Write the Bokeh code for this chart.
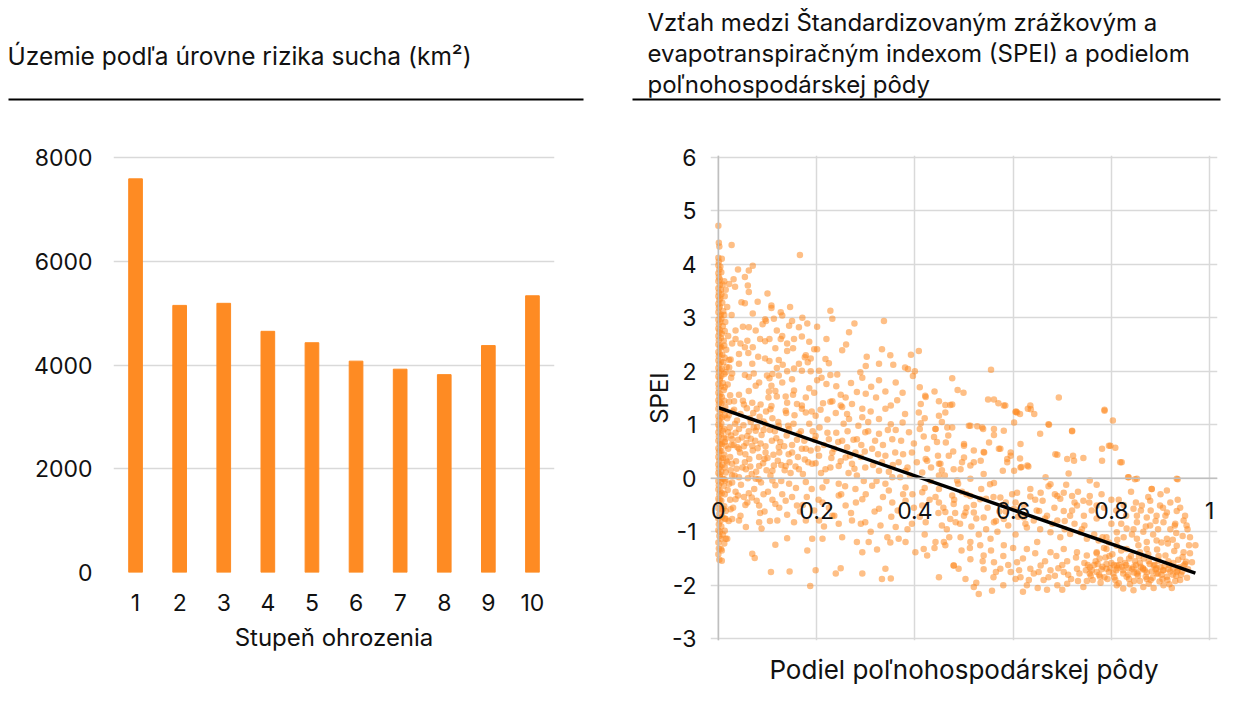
from bokeh.plotting import figure
from bokeh.layouts import column, row
from bokeh.models import (Range1d, FactorRange, FixedTicker, CustomJSTickFormatter,
                          Title, Label, Span)
from bokeh.embed import file_html
from bokeh.resources import INLINE

FONT = "Inter"
ORANGE = "#FE8B23"
GRID = "#D9D9D9"
TXT = "#111111"

# ---------------- data ----------------
left_title = "Územie podľa úrovne rizika sucha (km²)"
right_title_lines = ["Vzťah medzi Štandardizovaným zrážkovým a",
                     "evapotranspiračným indexom (SPEI) a podielom",
                     "poľnohospodárskej pôdy"]
bar_xlabel = "Stupeň ohrozenia"
scatter_xlabel = "Podiel poľnohospodárskej pôdy"
scatter_ylabel = "SPEI"

levels = ["1", "2", "3", "4", "5", "6", "7", "8", "9", "10"]
area_km2 = [7590, 5150, 5190, 4650, 4430, 4075, 3920, 3815, 4375, 5335]
bar_ticks = [0, 2000, 4000, 6000, 8000]

x_ticks = [0, 0.2, 0.4, 0.6, 0.8, 1]
x_tick_labels = ["0", "0.2", "0.4", "0.6", "0.8", "1"]
y_ticks = [-3, -2, -1, 0, 1, 2, 3, 4, 5, 6]

trend_x = [0.0, 0.971]
trend_y = [1.32, -1.77]

pts_column = [
    (0.000, 4.72), (0.001, 4.40), (0.002, 4.33), (0.000, 4.12), (0.001, 4.05), (0.000, 3.98),
    (0.002, 3.90), (0.000, 3.83), (0.001, 3.76), (0.000, 3.68), (0.003, 3.61), (0.000, 3.55),
    (0.001, 3.47), (0.000, 3.40), (0.002, 3.33), (0.000, 3.26), (0.001, 3.18), (0.000, 3.10),
    (0.003, 3.03), (0.000, 2.96), (0.001, 2.88), (0.000, 2.80), (0.002, 2.73), (0.000, 2.66),
    (0.001, 2.58), (0.000, 2.50), (0.003, 2.43), (0.000, 2.36), (0.001, 2.28), (0.000, 2.20),
    (0.002, 2.13), (0.000, 2.06), (0.001, 1.98), (0.000, 1.90), (0.003, 1.83), (0.000, 1.76),
    (0.001, 1.68), (0.000, 1.60), (0.002, 1.53), (0.000, 1.46), (0.001, 1.38), (0.000, 1.30),
    (0.003, 1.23), (0.000, 1.16), (0.001, 1.08), (0.000, 1.00), (0.002, 0.93), (0.000, 0.86),
    (0.001, 0.78), (0.000, 0.70), (0.003, 0.63), (0.000, 0.56), (0.001, 0.48), (0.000, 0.40),
    (0.002, 0.33), (0.000, 0.26), (0.001, 0.18), (0.000, 0.10), (0.003, 0.03), (0.000, -0.05),
    (0.001, -0.13), (0.000, -0.21), (0.002, -0.30), (0.000, -0.38), (0.001, -0.47), (0.000, -0.56),
    (0.002, -0.66), (0.000, -0.75), (0.001, -0.86), (0.000, -0.97), (0.002, -1.08), (0.000, -1.20),
    (0.001, -1.31), (0.000, -1.42), (0.002, -1.52),
    (0.007, 4.10), (0.006, 3.85), (0.009, 3.62), (0.006, 3.44), (0.008, 3.28), (0.010, 3.12),
    (0.006, 2.98), (0.009, 2.84), (0.007, 2.70), (0.011, 2.57), (0.006, 2.45), (0.008, 2.31),
    (0.010, 2.17), (0.007, 2.04), (0.006, 1.91), (0.009, 1.78), (0.011, 1.65), (0.007, 1.52),
    (0.006, 1.40), (0.010, 1.27), (0.008, 1.14), (0.006, 1.02), (0.009, 0.89), (0.011, 0.76),
    (0.007, 0.64), (0.006, 0.51), (0.010, 0.38), (0.008, 0.25), (0.006, 0.12), (0.009, -0.01),
    (0.011, -0.14), (0.007, -0.28), (0.006, -0.42), (0.010, -0.57), (0.008, -0.72), (0.006, -0.90),
    (0.009, -1.05), (0.012, -1.22), (0.007, -1.35),
    (0.015, 3.52), (0.018, 3.20), (0.014, 2.92), (0.020, 2.66), (0.016, 2.40), (0.022, 2.21),
    (0.015, 1.98), (0.019, 1.75), (0.024, 1.55), (0.014, 1.33), (0.018, 1.12), (0.023, 0.95),
    (0.015, 0.74), (0.020, 0.55), (0.016, 0.33), (0.025, 0.15), (0.014, -0.04), (0.019, -0.22),
    (0.024, -0.40), (0.015, -0.61), (0.021, -0.80), (0.013, -0.98), (0.018, -1.13), (0.027, 3.05),
    (0.028, 2.52), (0.026, 1.88), (0.029, 1.25), (0.027, 0.62), (0.028, -0.08), (0.022, 1.43),
    (0.017, 2.08), (0.020, 0.86), (0.025, -0.58),
    (0.004, 3.95), (0.003, 3.72), (0.005, 3.52), (0.004, 3.36), (0.003, 3.21), (0.005, 3.06),
    (0.004, 2.92), (0.003, 2.77), (0.005, 2.62), (0.004, 2.47), (0.003, 2.32), (0.005, 2.17),
    (0.004, 2.02), (0.003, 1.87), (0.005, 1.72), (0.004, 1.57), (0.003, 1.42), (0.005, 1.27),
    (0.004, 1.12), (0.003, 0.97), (0.005, 0.82), (0.004, 0.67), (0.003, 0.52), (0.005, 0.37),
    (0.004, 0.22), (0.003, 0.07), (0.005, -0.08), (0.004, -0.24), (0.003, -0.40), (0.005, -0.58),
    (0.004, -0.80), (0.003, -1.00),
    (0.013, 3.40), (0.012, 3.05), (0.013, 2.75), (0.012, 2.48), (0.013, 2.25), (0.012, 1.95),
    (0.013, 1.70), (0.012, 1.45), (0.013, 1.18), (0.012, 0.92), (0.013, 0.68), (0.012, 0.44),
    (0.013, 0.20), (0.012, -0.02), (0.013, -0.30), (0.012, -0.52), (0.013, -0.75),
]

pts_upper = [
    (0.027, 4.36), (0.166, 4.17), (0.070, 3.97), (0.062, 3.88), (0.054, 3.76), (0.031, 3.72),
    (0.034, 3.58), (0.022, 3.63), (0.012, 3.68), (0.062, 3.48), (0.047, 3.29), (0.054, 3.27),
    (0.108, 3.23), (0.108, 3.18), (0.146, 3.20), (0.127, 3.10), (0.130, 3.04), (0.070, 3.08),
    (0.228, 3.13), (0.232, 2.98), (0.171, 3.00), (0.113, 2.98), (0.095, 2.97), (0.097, 2.94),
    (0.150, 2.94), (0.181, 2.89), (0.277, 2.89), (0.337, 2.94), (0.201, 2.83), (0.164, 2.82),
    (0.144, 2.85), (0.090, 2.88), (0.062, 2.82), (0.050, 2.83), (0.035, 2.76), (0.076, 2.76),
    (0.119, 2.76), (0.266, 2.73), (0.130, 2.66), (0.127, 2.60), (0.104, 2.60), (0.095, 2.56),
    (0.170, 2.65), (0.154, 2.60), (0.220, 2.60), (0.059, 2.57), (0.054, 2.45), (0.045, 2.52),
    (0.035, 2.60), (0.116, 2.43), (0.140, 2.38), (0.152, 2.43), (0.195, 2.41), (0.201, 2.41),
    (0.252, 2.39), (0.333, 2.41), (0.408, 2.38), (0.042, 2.32), (0.061, 2.34), (0.081, 2.27),
    (0.178, 2.30), (0.176, 2.26), (0.188, 2.24), (0.218, 2.23), (0.302, 2.27), (0.392, 2.31),
    (0.095, 2.24), (0.104, 2.19), (0.025, 2.22), (0.022, 2.07), (0.042, 2.14), (0.069, 2.14),
    (0.123, 2.21), (0.131, 2.12), (0.119, 2.06), (0.154, 2.05), (0.164, 2.14), (0.182, 2.17),
    (0.225, 2.15), (0.327, 2.14), (0.356, 2.12), (0.380, 2.07), (0.386, 2.04), (0.400, 2.00),
    (0.396, 1.91), (0.476, 1.87), (0.028, 1.96), (0.054, 1.93), (0.062, 1.89), (0.072, 1.96),
    (0.083, 1.79), (0.099, 1.92), (0.104, 1.87), (0.123, 1.92), (0.140, 2.00), (0.170, 2.01),
    (0.188, 2.00), (0.205, 2.01), (0.201, 1.83), (0.220, 1.76), (0.228, 1.93), (0.242, 1.94),
    (0.289, 1.98), (0.293, 1.88), (0.327, 1.83), (0.361, 1.79), (0.311, 1.71), (0.282, 1.61),
    (0.249, 1.56), (0.259, 1.51), (0.321, 1.51), (0.364, 1.46), (0.422, 1.52), (0.449, 1.44),
    (0.412, 1.39), (0.462, 1.37), (0.472, 1.37), (0.213, 1.40), (0.228, 1.43), (0.232, 1.44),
    (0.252, 1.33), (0.249, 1.36), (0.272, 1.39), (0.293, 1.30), (0.351, 1.36), (0.178, 1.51),
    (0.195, 1.60), (0.154, 1.64), (0.152, 1.56), (0.137, 1.53), (0.116, 1.63), (0.119, 1.53),
    (0.103, 1.62), (0.102, 1.51), (0.130, 1.79), (0.108, 1.73), (0.076, 1.73), (0.062, 1.63),
    (0.042, 1.56), (0.032, 1.44), (0.052, 1.38), (0.069, 1.41), (0.086, 1.38), (0.140, 1.41),
    (0.160, 1.39), (0.170, 1.36),
    (0.555, 2.03), (0.487, 1.65), (0.499, 1.60), (0.476, 1.38), (0.549, 1.47), (0.561, 1.47),
    (0.570, 1.40), (0.584, 1.36), (0.635, 1.36), (0.630, 1.30), (0.693, 1.51), (0.786, 1.28),
    (0.606, 1.25), (0.421, 1.54), (0.608, 1.23), (0.636, 1.29), (0.643, 1.20),
    (0.110, 1.95), (0.150, 1.85), (0.185, 1.68), (0.210, 1.88), (0.240, 1.72), (0.270, 1.78),
    (0.300, 1.58), (0.340, 1.62), (0.375, 1.60), (0.410, 1.70), (0.440, 1.62), (0.070, 2.45),
    (0.085, 2.60), (0.140, 2.52), (0.185, 2.55), (0.260, 2.50), (0.300, 2.10), (0.350, 2.30),
    (0.080, 3.30), (0.100, 3.45), (0.040, 3.90), (0.060, 3.60),
]

pts_middle = [
    (0.106, 1.29), (0.137, 1.26), (0.178, 1.23), (0.198, 1.17), (0.239, 1.22), (0.266, 1.11),
    (0.293, 1.14), (0.327, 1.11), (0.351, 1.01), (0.375, 1.04), (0.408, 1.23), (0.449, 1.17),
    (0.462, 1.23), (0.442, 0.92), (0.476, 0.95), (0.388, 0.86), (0.354, 0.73), (0.327, 0.83),
    (0.299, 0.86), (0.282, 0.73), (0.252, 0.70), (0.225, 0.73), (0.198, 0.79), (0.164, 0.83),
    (0.144, 0.92), (0.123, 0.98), (0.096, 1.01), (0.076, 0.89), (0.059, 0.79), (0.042, 0.92),
    (0.028, 0.73), (0.015, 0.61), (0.042, 0.55), (0.069, 0.61), (0.096, 0.48), (0.123, 0.58),
    (0.150, 0.48), (0.178, 0.55), (0.205, 0.42), (0.232, 0.48), (0.259, 0.39), (0.279, 0.48),
    (0.313, 0.55), (0.340, 0.42), (0.367, 0.30), (0.394, 0.48), (0.422, 0.36), (0.449, 0.27),
    (0.469, 0.42), (0.449, 0.05), (0.415, 0.11), (0.381, 0.14), (0.354, 0.02), (0.327, 0.14),
    (0.299, 0.20), (0.272, 0.27), (0.245, 0.23), (0.218, 0.17), (0.191, 0.27), (0.164, 0.17),
    (0.137, 0.23), (0.110, 0.14), (0.083, 0.23), (0.056, 0.17), (0.028, 0.27), (0.015, 0.11),
    (0.042, 0.02), (0.076, -0.01), (0.110, -0.04), (0.144, -0.10), (0.178, -0.07), (0.212, -0.17),
    (0.245, -0.10), (0.279, -0.20), (0.313, -0.14), (0.347, -0.23), (0.381, -0.17), (0.415, -0.26),
    (0.449, -0.20), (0.476, -0.32), (0.035, -0.39), (0.059, -0.45), (0.083, -0.51), (0.116, -0.48),
    (0.137, -0.42), (0.160, -0.51), (0.212, -0.45), (0.245, -0.32), (0.259, -0.51), (0.293, -0.39),
    (0.327, -0.57), (0.354, -0.45), (0.381, -0.42), (0.415, -0.51), (0.449, -0.45), (0.462, -0.63),
    (0.015, -0.76), (0.028, -0.76), (0.042, -0.79), (0.056, -0.91), (0.083, -0.82), (0.120, -0.79),
    (0.154, -0.82), (0.178, -0.79), (0.205, -0.79), (0.232, -0.70), (0.245, -0.85), (0.272, -0.79),
    (0.299, -0.82), (0.330, -0.88), (0.361, -0.91), (0.394, -0.85), (0.422, -0.82), (0.455, -0.88),
    (0.472, -0.76), (0.088, -0.94), (0.212, -1.13), (0.252, -1.10), (0.282, -1.19), (0.306, -1.19),
    (0.344, -1.10), (0.367, -1.13), (0.381, -1.19), (0.401, -1.38), (0.418, -1.32), (0.442, -1.19),
    (0.459, -1.19), (0.116, -1.24), (0.140, -1.12), (0.191, -1.13), (0.069, -1.41), (0.074, -1.49),
    (0.181, -1.35), (0.293, -1.38), (0.323, -1.33), (0.425, -1.44), (0.107, -1.75), (0.145, -1.74),
    (0.198, -1.72), (0.249, -1.68), (0.239, -1.78), (0.293, -1.78), (0.340, -1.69), (0.333, -1.88),
    (0.351, -1.87), (0.449, -1.85), (0.187, -2.01), (0.462, -1.25), (0.479, -1.63), (0.005, -1.13),
    (0.015, -1.13), (0.005, -1.32), (0.007, -1.54),
    (0.032, 1.28), (0.045, 1.20), (0.058, 1.31), (0.071, 1.22), (0.084, 1.15), (0.097, 1.25),
    (0.038, 1.08), (0.051, 0.99), (0.066, 1.05), (0.079, 0.96), (0.092, 1.06), (0.110, 1.12),
    (0.035, 0.85), (0.048, 0.76), (0.062, 0.88), (0.075, 0.70), (0.088, 0.81), (0.105, 0.90),
    (0.118, 0.75), (0.031, 0.62), (0.044, 0.48), (0.057, 0.66), (0.070, 0.52), (0.083, 0.40),
    (0.096, 0.60), (0.112, 0.44), (0.126, 0.68), (0.036, 0.32), (0.049, 0.20), (0.063, 0.36),
    (0.077, 0.12), (0.091, 0.28), (0.106, 0.05), (0.121, 0.33), (0.135, 0.15), (0.033, 0.05),
    (0.046, -0.12), (0.060, 0.00), (0.073, -0.20), (0.087, -0.08), (0.101, -0.25), (0.116, -0.13),
    (0.130, -0.30), (0.040, -0.32), (0.055, -0.50), (0.068, -0.36), (0.094, -0.62), (0.110, -0.40),
    (0.030, -0.55), (0.045, -0.70), (0.142, 0.98), (0.155, 1.18), (0.168, 0.88), (0.150, 0.62),
    (0.162, 0.40), (0.175, 0.70), (0.185, 1.02), (0.145, 0.30), (0.172, 0.08), (0.158, -0.18),
    (0.188, 0.52), (0.198, 0.28), (0.206, 0.95), (0.215, 0.62), (0.222, 1.10), (0.230, 0.38),
    (0.240, 0.85), (0.255, 1.02), (0.262, 0.58), (0.275, 0.72), (0.285, 0.98), (0.265, 0.10),
    (0.250, -0.30), (0.290, 0.40), (0.305, 0.88), (0.315, 0.25), (0.322, -0.05), (0.335, 0.62),
    (0.345, 0.90), (0.360, 0.48), (0.372, 0.70), (0.385, 0.20), (0.398, 0.65), (0.410, 0.92),
    (0.425, 0.55), (0.432, -0.05), (0.445, 0.68), (0.455, 0.15), (0.468, 0.80), (0.478, 0.50),
    (0.488, -0.10), (0.300, -0.30), (0.335, -0.35), (0.365, -0.60), (0.395, -0.30), (0.410, -0.72),
    (0.430, -0.40), (0.448, -0.65), (0.465, -0.95), (0.480, -0.40), (0.492, -0.85), (0.180, -0.35),
    (0.195, -0.60), (0.225, -0.55), (0.270, -0.65), (0.290, -0.85), (0.310, -1.00), (0.350, -1.20),
    (0.385, -0.95), (0.420, -1.05), (0.440, -1.30), (0.470, -1.10), (0.495, -1.35),
    (0.021, 1.18), (0.034, 1.02), (0.026, 0.80), (0.039, 0.58), (0.024, 0.40), (0.037, 0.18),
    (0.022, -0.10), (0.035, -0.25), (0.050, 1.45), (0.064, 1.12), (0.078, 1.30), (0.092, 0.90),
    (0.108, 1.35), (0.122, 1.05), (0.138, 1.22), (0.052, 0.60), (0.066, 0.74), (0.080, 0.56),
    (0.094, 0.36), (0.109, 0.70), (0.124, 0.48), (0.139, 0.80), (0.153, 1.02), (0.054, 0.30),
    (0.068, 0.08), (0.082, -0.02), (0.098, 0.15), (0.113, 0.24), (0.128, -0.05), (0.143, 0.45),
    (0.157, 0.22), (0.170, 0.55), (0.183, 0.30), (0.196, 0.72), (0.209, 0.10), (0.222, 0.85),
    (0.236, 0.55), (0.249, 0.32), (0.263, 0.88), (0.277, 0.18), (0.291, 0.62), (0.305, 1.05),
    (0.319, 0.70), (0.333, 0.30), (0.347, 0.12), (0.361, 0.90), (0.376, 0.45), (0.390, 0.05),
    (0.404, 0.30), (0.418, 0.78), (0.433, 0.20), (0.447, 0.42), (0.461, 0.05), (0.062, -0.28),
    (0.078, -0.42), (0.092, -0.30), (0.124, -0.55), (0.150, -0.35), (0.166, -0.62), (0.190, -0.20),
    (0.204, -0.40), (0.220, -0.05), (0.236, -0.70), (0.258, -0.15), (0.280, -0.45), (0.296, -0.05),
    (0.318, -0.62), (0.340, -0.10), (0.352, -0.72), (0.376, -0.30), (0.398, -0.55), (0.420, -0.18),
    (0.442, -0.35), (0.458, -0.55), (0.482, -0.65), (0.496, -0.25), (0.170, 1.30), (0.190, 1.25),
    (0.208, 1.28), (0.262, 1.20), (0.310, 1.25), (0.340, 1.30), (0.380, 1.20), (0.420, 1.12),
    (0.455, 1.05),
    (0.018, 0.30), (0.028, 0.05), (0.040, 0.72), (0.055, 0.45), (0.065, 0.22), (0.072, 0.95),
    (0.086, 0.65), (0.100, 0.38), (0.115, 0.88), (0.128, 0.25), (0.134, 0.60), (0.147, 0.10),
    (0.160, 0.72), (0.176, 0.35), (0.192, 0.88), (0.202, 0.55), (0.228, 0.20), (0.244, 0.68),
    (0.268, 0.42), (0.282, 0.05), (0.298, 0.50), (0.325, 0.45), (0.355, 0.25), (0.370, 0.02),
    (0.052, -0.35), (0.085, -0.65), (0.105, -0.80), (0.140, -0.68), (0.172, -0.50), (0.215, -0.90),
]

pts_right = [
    (0.412, 1.03), (0.442, 0.92), (0.466, 0.95), (0.513, 0.98), (0.537, 0.95), (0.561, 0.92),
    (0.581, 0.89), (0.672, 1.01), (0.720, 0.89), (0.439, 0.77), (0.463, 0.67), (0.500, 0.64),
    (0.520, 0.52), (0.541, 0.48), (0.571, 0.55), (0.595, 0.48), (0.615, 0.64), (0.425, 0.33),
    (0.452, 0.27), (0.479, 0.17), (0.496, 0.30), (0.513, 0.24), (0.534, 0.33), (0.588, 0.30),
    (0.602, 0.14), (0.615, 0.20), (0.629, 0.24), (0.686, 0.45), (0.710, 0.36), (0.724, 0.33),
    (0.781, 0.55), (0.798, 0.61), (0.818, 0.30), (0.835, 0.02), (0.852, -0.01), (0.882, -0.20),
    (0.913, -0.23), (0.933, -0.01),
    (0.581, 1.36), (0.605, 1.24), (0.614, 1.20), (0.786, 1.26), (0.803, 1.08), (0.673, 1.00),
    (0.720, 0.88), (0.655, 0.83), (0.510, 0.98), (0.527, 0.97), (0.539, 0.92), (0.602, 1.04),
    (0.551, 0.67), (0.561, 0.81), (0.574, 0.55), (0.588, 0.36), (0.595, 0.42), (0.614, 0.37),
    (0.631, 0.22), (0.617, 0.21), (0.579, 0.14), (0.540, 0.49), (0.520, 0.30), (0.500, 0.39),
    (0.493, 0.17), (0.540, 0.08), (0.561, -0.09), (0.553, -0.11), (0.513, -0.01), (0.486, -0.04),
    (0.500, 0.61), (0.690, 0.44), (0.722, 0.42), (0.743, 0.38), (0.795, 0.61), (0.808, 0.57),
    (0.821, 0.30), (0.781, 0.33), (0.713, 0.09), (0.756, -0.04), (0.770, -0.12), (0.834, 0.02),
    (0.848, -0.02), (0.882, -0.20), (0.935, -0.02), (0.666, 0.02), (0.676, -0.11), (0.656, -0.27),
    (0.635, -0.34), (0.690, -0.33), (0.703, -0.27), (0.720, -0.33), (0.730, -0.51), (0.743, -0.42),
    (0.756, -0.33), (0.770, -0.51), (0.716, -0.70), (0.703, -0.61), (0.690, -0.79), (0.669, -0.70),
    (0.653, -0.61), (0.622, -0.73), (0.642, -0.79), (0.676, -1.01), (0.696, -1.10), (0.716, -1.04),
    (0.737, -1.01), (0.750, -1.13), (0.774, -1.16), (0.790, -1.10), (0.811, -1.01), (0.831, -0.94),
    (0.845, -0.57), (0.862, -0.51), (0.879, -0.42), (0.899, -0.51), (0.920, -0.45), (0.933, -0.61),
    (0.947, -0.79), (0.953, -0.88), (0.852, -0.70), (0.872, -0.73), (0.892, -0.70), (0.913, -0.64),
    (0.852, -0.82), (0.879, -0.88), (0.906, -0.82), (0.929, -0.88), (0.960, -1.10), (0.971, -1.25),
    (0.852, -1.13), (0.872, -1.19), (0.892, -1.16), (0.913, -1.13), (0.933, -1.26), (0.947, -1.38),
    (0.964, -1.57), (0.811, -1.26), (0.831, -1.32), (0.790, -1.32), (0.770, -1.38), (0.750, -1.44),
    (0.730, -1.38), (0.703, -1.32), (0.676, -1.38), (0.649, -1.19), (0.628, -1.32), (0.608, -1.57),
    (0.635, -1.69), (0.656, -1.63), (0.676, -1.72), (0.703, -1.75), (0.730, -1.69), (0.756, -1.66),
    (0.770, -1.75), (0.790, -1.69), (0.811, -1.63), (0.824, -1.72), (0.845, -1.66), (0.865, -1.69),
    (0.886, -1.63), (0.906, -1.72), (0.926, -1.69), (0.947, -1.63), (0.756, -1.78), (0.777, -1.84),
    (0.804, -1.78), (0.831, -1.84), (0.852, -1.78), (0.872, -1.88), (0.892, -1.78), (0.913, -1.84),
    (0.933, -1.75), (0.811, -2.00), (0.845, -2.09), (0.865, -2.03), (0.886, -2.05), (0.906, -2.00),
    (0.923, -2.05), (0.824, -2.06), (0.743, -2.03), (0.710, -1.97), (0.690, -2.00), (0.669, -2.08),
    (0.628, -2.00), (0.605, -1.88), (0.557, -2.10), (0.530, -2.16), (0.520, -2.03), (0.503, -1.88),
    (0.489, -1.69), (0.479, -1.63), (0.513, -1.51), (0.540, -1.44), (0.561, -1.57), (0.574, -1.69),
    (0.554, -1.13), (0.581, -1.25), (0.533, -1.25), (0.513, -1.19), (0.493, -1.10), (0.483, -0.82),
    (0.500, -0.70), (0.520, -0.64), (0.540, -0.73), (0.561, -0.82), (0.581, -0.76), (0.602, -0.57),
    (0.479, -0.48), (0.503, -0.64), (0.513, -0.33), (0.533, -0.39), (0.574, -0.36), (0.608, -0.27),
]

pts_dense = [
    (0.505, -0.30), (0.520, -0.50), (0.535, -0.20), (0.548, -0.55), (0.560, -0.35), (0.572, -0.62),
    (0.585, -0.45), (0.598, -0.30), (0.610, -0.72), (0.622, -0.50), (0.635, -0.20), (0.648, -0.60),
    (0.660, -0.42), (0.672, -0.15), (0.684, -0.55), (0.696, -0.38), (0.708, -0.12), (0.720, -0.60),
    (0.732, -0.25), (0.744, -0.70), (0.515, -0.90), (0.530, -1.05), (0.545, -0.95), (0.568, -1.00),
    (0.590, -0.88), (0.605, -1.05), (0.628, -0.92), (0.655, -0.95), (0.680, -0.85), (0.705, -0.95),
    (0.725, -0.85), (0.740, -0.95), (0.555, -1.35), (0.580, -1.45), (0.600, -1.30), (0.620, -1.50),
    (0.645, -1.40), (0.665, -1.55), (0.688, -1.45), (0.710, -1.55), (0.728, -1.48), (0.745, -1.58),
    (0.595, -1.75), (0.615, -1.85), (0.642, -1.78), (0.662, -1.90), (0.685, -1.82), (0.700, -1.62),
    (0.718, -1.88), (0.735, -1.78), (0.750, -1.92), (0.560, -1.85), (0.540, -1.70), (0.525, -1.95),
    (0.580, -2.00), (0.650, -2.05), (0.700, -2.08), (0.620, -2.12),
    (0.752, -1.62), (0.760, -1.72), (0.768, -1.55), (0.775, -1.80), (0.782, -1.65), (0.788, -1.48),
    (0.795, -1.75), (0.800, -1.58), (0.806, -1.85), (0.812, -1.68), (0.818, -1.52), (0.824, -1.78),
    (0.830, -1.62), (0.836, -1.88), (0.842, -1.70), (0.848, -1.55), (0.854, -1.82), (0.860, -1.65),
    (0.866, -1.50), (0.872, -1.76), (0.878, -1.60), (0.884, -1.86), (0.890, -1.70), (0.896, -1.54),
    (0.902, -1.80), (0.908, -1.64), (0.914, -1.90), (0.920, -1.74), (0.926, -1.58), (0.932, -1.82),
    (0.938, -1.66), (0.944, -1.74), (0.950, -1.60), (0.956, -1.70), (0.762, -1.90), (0.778, -1.95),
    (0.792, -1.88), (0.815, -1.96), (0.838, -1.98), (0.858, -1.92), (0.876, -1.97), (0.898, -1.93),
    (0.918, -1.98), (0.940, -1.90), (0.770, -1.40), (0.785, -1.30), (0.802, -1.42), (0.820, -1.35),
    (0.840, -1.45), (0.858, -1.38), (0.875, -1.42), (0.893, -1.33), (0.910, -1.44), (0.928, -1.36),
    (0.945, -1.47), (0.960, -1.40), (0.790, -1.60), (0.810, -1.72), (0.828, -1.58), (0.846, -1.76),
    (0.864, -1.68), (0.882, -1.74), (0.900, -1.66), (0.918, -1.62), (0.935, -1.72), (0.805, -1.62),
    (0.850, -1.62), (0.870, -1.84), (0.888, -1.62), (0.905, -1.72), (0.925, -1.80), (0.780, -1.70),
    (0.765, -1.62), (0.835, -1.68), (0.855, -1.74), (0.895, -1.78),
    (0.755, -0.45), (0.770, -0.75), (0.785, -0.55), (0.800, -0.85), (0.815, -0.40), (0.830, -0.70),
    (0.845, -0.95), (0.860, -0.60), (0.875, -0.35), (0.890, -0.80), (0.905, -0.55), (0.920, -0.95),
    (0.935, -0.40), (0.950, -0.70), (0.765, -1.05), (0.795, -1.20), (0.825, -1.10), (0.855, -1.25),
    (0.885, -1.05), (0.915, -1.22), (0.945, -1.08), (0.780, -0.30), (0.840, -0.25), (0.900, -0.30),
    (0.810, -0.60), (0.870, -0.90), (0.930, -0.85),
    (0.505, -0.55), (0.525, -0.75), (0.545, -0.38), (0.565, -0.80), (0.585, -0.62), (0.605, -0.45),
    (0.625, -0.85), (0.645, -0.40), (0.665, -0.75), (0.685, -0.30), (0.705, -0.80), (0.725, -0.45),
    (0.745, -0.88), (0.760, -0.60), (0.512, -1.30), (0.538, -1.55), (0.565, -1.75), (0.590, -1.62),
    (0.612, -1.72), (0.632, -1.90), (0.652, -1.75), (0.672, -1.85), (0.692, -1.68), (0.712, -1.80),
    (0.732, -1.92), (0.748, -1.72), (0.758, -1.82), (0.772, -1.60), (0.786, -1.85), (0.798, -1.68),
    (0.808, -1.90), (0.822, -1.65), (0.834, -1.80), (0.846, -1.92), (0.858, -1.58), (0.868, -1.72),
    (0.880, -1.90), (0.892, -1.68), (0.904, -1.88), (0.916, -1.70), (0.930, -1.92), (0.942, -1.80),
    (0.954, -1.86), (0.776, -1.50), (0.796, -1.45), (0.816, -1.62), (0.836, -1.50), (0.856, -1.46),
    (0.876, -1.55), (0.896, -1.45), (0.916, -1.55), (0.936, -1.52), (0.952, -1.56), (0.782, -1.10),
    (0.812, -1.15), (0.842, -1.05), (0.872, -1.32), (0.902, -1.20), (0.932, -1.02), (0.800, -0.40),
    (0.825, -0.50), (0.850, -0.45), (0.880, -0.60), (0.910, -0.70), (0.940, -0.55), (0.955, -0.95),
    (0.820, -0.85), (0.865, -1.00), (0.895, -0.95), (0.925, -1.15), (0.958, -1.25),
]

all_pts = pts_column + pts_upper + pts_middle + pts_right + pts_dense
share_x = [p[0] for p in all_pts]
spei_y = [p[1] for p in all_pts]

# ---------------- header ----------------
header = figure(width=1240, height=108, x_range=Range1d(0, 1240), y_range=Range1d(0, 108),
                output_backend="svg", toolbar_location=None, min_border=0,
                x_axis_type=None, y_axis_type=None, outline_line_color=None)
header.grid.visible = False
header.add_layout(Label(x=7, y=53, text=left_title, text_font=FONT, text_font_size="24.5px",
                        text_color=TXT, text_baseline="middle"))
for i, yy in enumerate([86, 55, 24]):
    header.add_layout(Label(x=647, y=yy, text=right_title_lines[i], text_font=FONT,
                            text_font_size="24px", text_color=TXT,
                            text_baseline="middle"))
header.segment(x0=[8, 632], y0=[9, 9], x1=[583, 1220], y1=[9, 9], line_width=2, color="black")

# ---------------- bar chart ----------------
bar = figure(x_range=FactorRange(*levels), y_range=Range1d(0, 8040),
             frame_width=441, frame_height=417,
             min_border_left=113, min_border_right=54, min_border_top=47, min_border_bottom=128,
             output_backend="svg", toolbar_location=None, outline_line_color=None)
bar.vbar(x=levels, top=area_km2, width=0.31, color=ORANGE)
bar.xgrid.visible = False
bar.ygrid.grid_line_color = GRID
bar.ygrid.grid_line_width = 1.5
bar.yaxis.ticker = FixedTicker(ticks=bar_ticks)
for ax in (bar.xaxis[0], bar.yaxis[0]):
    ax.axis_line_color = None
    ax.major_tick_line_color = None
    ax.minor_tick_line_color = None
    ax.major_label_text_font = FONT
    ax.major_label_text_font_size = "23px"
    ax.major_label_text_color = TXT
bar.yaxis.major_label_standoff = 15
bar.xaxis.major_label_standoff = 15
bar.xaxis.axis_label = bar_xlabel
bar.xaxis.axis_label_text_font = FONT
bar.xaxis.axis_label_text_font_size = "24px"
bar.xaxis.axis_label_text_font_style = "normal"
bar.xaxis.axis_label_text_color = TXT
bar.xaxis.axis_label_standoff = 9

# ---------------- scatter ----------------
sc = figure(x_range=Range1d(-0.016, 1.016), y_range=Range1d(-3.03, 6.03),
            frame_width=507, frame_height=485,
            min_border_left=102, min_border_right=23, min_border_top=47, min_border_bottom=60,
            output_backend="svg", toolbar_location=None, outline_line_color=None)
sc.xgrid.grid_line_color = GRID
sc.ygrid.grid_line_color = GRID
sc.xgrid.grid_line_width = 1.5
sc.ygrid.grid_line_width = 1.5
sc.xgrid.ticker = FixedTicker(ticks=x_ticks)
sc.ygrid.ticker = FixedTicker(ticks=y_ticks)
sc.xgrid.bounds = (y_ticks[0], y_ticks[-1])
sc.ygrid.bounds = (x_ticks[0], x_ticks[-1])
sc.xaxis.visible = False
sc.yaxis.ticker = FixedTicker(ticks=y_ticks)
sc.yaxis.formatter = CustomJSTickFormatter(code="return tick.toString();")
yax = sc.yaxis[0]
yax.axis_line_color = None
yax.major_tick_line_color = None
yax.minor_tick_line_color = None
yax.major_label_text_font = FONT
yax.major_label_text_font_size = "23px"
yax.major_label_text_color = TXT
yax.major_label_standoff = 8
yax.axis_label = scatter_ylabel
yax.axis_label_text_font = FONT
yax.axis_label_text_font_size = "24px"
yax.axis_label_text_font_style = "normal"
yax.axis_label_text_color = TXT
yax.axis_label_standoff = -5
sc.add_layout(Span(location=0, dimension="width", line_color="#BFBFBF", line_width=1.5))
sc.add_layout(Span(location=0, dimension="height", line_color="#BFBFBF", line_width=1.5))
for t, lab in zip(x_ticks, x_tick_labels):
    sc.add_layout(Label(x=t, y=0, text=lab, text_align="center", text_baseline="middle",
                        y_offset=-32, text_font=FONT, text_font_size="23px", text_color=TXT))
sc.add_layout(Title(text=scatter_xlabel, align="center", text_font=FONT, text_font_size="26px",
                    text_font_style="normal", text_color=TXT, standoff=22), "below")

sc.scatter(share_x, spei_y, size=6.5, fill_color=ORANGE, fill_alpha=0.55, line_color=None)
sc.line(trend_x, trend_y, line_width=3.5, color="black")

layout = column(header, row(bar, sc))
open("out.html", "w").write(file_html(layout, INLINE))
